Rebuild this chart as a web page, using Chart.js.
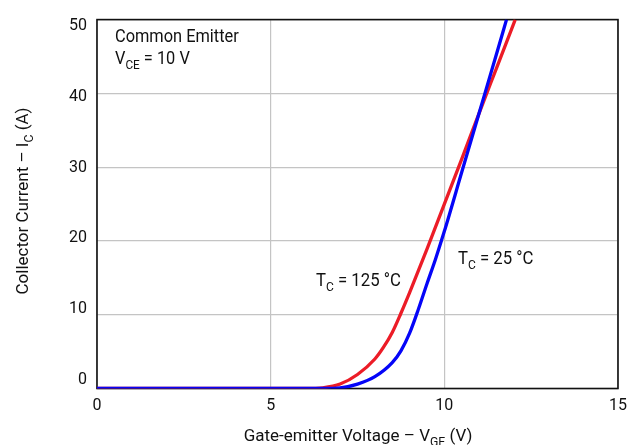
<!DOCTYPE html>
<html>
<head>
<meta charset="utf-8">
<script src="https://cdn.jsdelivr.net/npm/chart.js@4"></script>
<style>
  html, body { margin: 0; padding: 0; background: #fff; }
  #wrap { width: 639px; height: 445px; }
</style>
</head>
<body>
<div id="wrap"><canvas id="chart"></canvas></div>
<script>
// Transfer characteristics
const vge125 = [0, 1, 2, 3, 4, 5, 6, 6.5, 7, 7.5, 8, 8.25, 8.5, 8.75, 9, 9.5, 10, 10.5, 11, 11.5, 12, 12.04];
const ic125  = [0, 0, 0, 0, 0, 0, 0, 0.1, 0.6, 1.9, 4.0, 5.6, 7.6, 10.2, 13.0, 18.9, 25.0, 31.1, 37.3, 43.4, 49.5, 50];

const vge25 = [0, 1, 2, 3, 4, 5, 6, 6.5, 7, 7.5, 8, 8.5, 8.75, 9, 9.25, 9.5, 9.75, 10, 10.5, 11, 11.5, 11.79];
const ic25  = [0, 0, 0, 0, 0, 0, 0, 0, 0.1, 0.6, 1.6, 3.5, 5.1, 7.5, 10.7, 14.2, 17.6, 21.3, 29.3, 37.3, 45.3, 50];

const xTicks = [0, 5, 10, 15];
const yTicks = [0, 10, 20, 30, 40, 50];

const FONT = "Roboto, 'Liberation Sans', sans-serif";

function toPoints(xs, ys) {
    return xs.map((x, i) => ({ x: x, y: ys[i] }));
}

// draw text with subscript runs: parts = [[text, isSub], ...]
// sx squeezes the text a little, the reference font is a condensed one
function drawRich(ctx, parts, x, y, size, sx) {
    sx = sx || 1;
    ctx.save();
    ctx.translate(x, y);
    ctx.scale(sx, 1);
    let cx = 0;
    parts.forEach(([txt, sub]) => {
        const s = sub ? size * 0.72 : size;
        ctx.font = s + "px " + FONT;
        ctx.fillText(txt, cx, sub ? size * 0.28 : 0);
        cx += ctx.measureText(txt).width;
    });
    ctx.restore();
}

function richWidth(ctx, parts, size, sx) {
    let w = 0;
    parts.forEach(([txt, sub]) => {
        ctx.font = (sub ? size * 0.72 : size) + "px " + FONT;
        w += ctx.measureText(txt).width;
    });
    return w * (sx || 1);
}

const framePlugin = {
    id: 'frame',
    beforeDatasetsDraw(chart) {
        const { ctx, chartArea: a } = chart;
        ctx.save();
        ctx.strokeStyle = '#111';
        ctx.lineWidth = 1.6;
        ctx.strokeRect(a.left, a.top, a.right - a.left, a.bottom - a.top);
        ctx.restore();
    }
};

const textPlugin = {
    id: 'texts',
    afterDraw(chart) {
        const ctx = chart.ctx;
        ctx.save();
        ctx.fillStyle = '#111';
        ctx.textAlign = 'left';
        ctx.textBaseline = 'alphabetic';

        drawRich(ctx, [["Common Emitter", false]], 115, 41.5, 18, 0.91);
        drawRich(ctx, [["V", false], ["CE", true], [" = 10 V", false]], 115, 63.5, 18, 0.91);
        drawRich(ctx, [["T", false], ["C", true], [" = 125 \u00b0C", false]], 316, 286, 18, 0.93);
        drawRich(ctx, [["T", false], ["C", true], [" = 25 \u00b0C", false]], 458, 263.5, 18, 0.93);

        // x title
        const xt = [["Gate-emitter Voltage \u2013 V", false], ["GE", true], [" (V)", false]];
        drawRich(ctx, xt, 358 - richWidth(ctx, xt, 17) / 2, 441, 17);

        // y title, rotated
        const yt = [["Collector Current \u2013 I", false], ["C", true], [" (A)", false]];
        ctx.translate(28, 201);
        ctx.rotate(-Math.PI / 2);
        drawRich(ctx, yt, -richWidth(ctx, yt, 17) / 2, 0, 17);
        ctx.restore();
    }
};

new Chart(document.getElementById('chart'), {
    type: 'line',
    data: {
        datasets: [
            {
                label: 'TC = 25 °C',
                data: toPoints(vge25, ic25),
                borderColor: '#0505f8',
                borderWidth: 3.3,
                pointRadius: 0,
                cubicInterpolationMode: 'monotone',
                fill: false
            },
            {
                label: 'TC = 125 °C',
                data: toPoints(vge125, ic125),
                borderColor: '#ec1c27',
                borderWidth: 3.3,
                pointRadius: 0,
                cubicInterpolationMode: 'monotone',
                fill: false
            }
        ]
    },
    options: {
        responsive: true,
        maintainAspectRatio: false,
        animation: false,
        layout: { padding: { left: 0, right: 21, top: 15, bottom: 0 } },
        plugins: {
            legend: { display: false },
            tooltip: { enabled: false }
        },
        scales: {
            x: {
                type: 'linear',
                min: 0,
                max: 15,
                afterBuildTicks: (s) => { s.ticks = xTicks.map(v => ({ value: v })); },
                afterFit: (s) => { s.height = 56.5; },
                border: { display: false },
                grid: { color: '#c4c4c4', lineWidth: 1.2, drawTicks: false },
                ticks: { color: '#111', font: { family: FONT, size: 16 }, padding: 8, maxRotation: 0 }
            },
            y: {
                min: 0,
                max: 50,
                afterBuildTicks: (s) => { s.ticks = yTicks.map(v => ({ value: v })); },
                afterFit: (s) => { s.width = 0; },
                border: { display: false },
                grid: { color: '#c4c4c4', lineWidth: 1.2, drawTicks: false },
                ticks: { display: false }
            },
            // tick labels sit slightly off the grid lines in the reference
            yLab: {
                position: 'left',
                min: -1.18,
                max: 50.88,
                afterBuildTicks: (s) => { s.ticks = yTicks.map(v => ({ value: v })); },
                afterFit: (s) => { s.width = 97; },
                border: { display: false },
                grid: { display: false, drawTicks: false },
                ticks: { color: '#111', font: { family: FONT, size: 16 }, padding: 10 }
            }
        }
    },
    plugins: [framePlugin, textPlugin]
});
</script>
</body>
</html>
